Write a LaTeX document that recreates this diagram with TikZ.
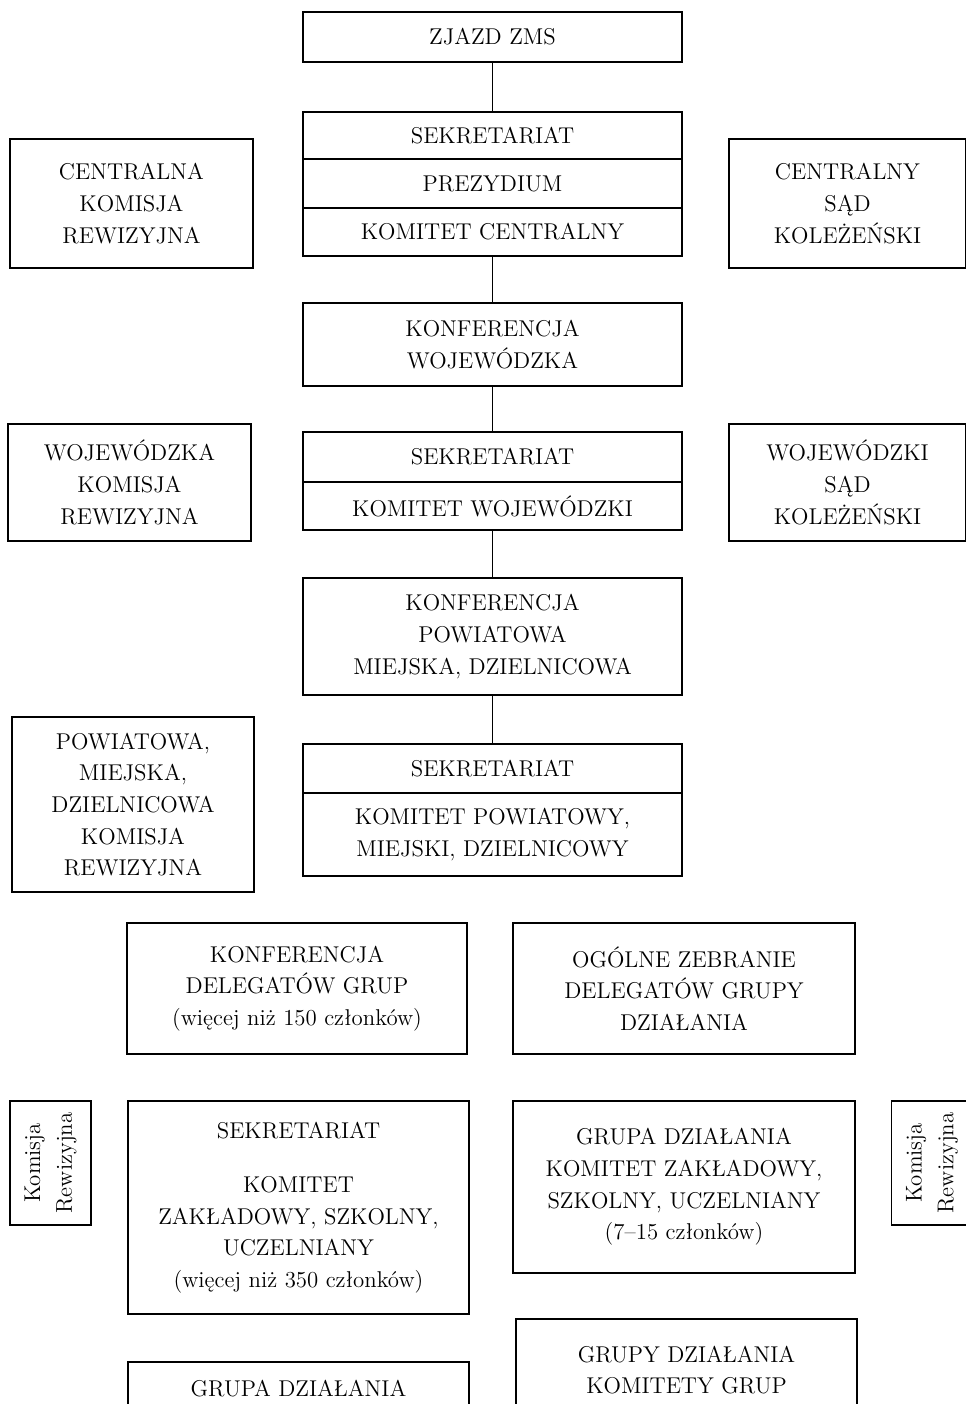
\documentclass[tikz,border=0pt]{standalone}
\usepackage{amsmath}

\begin{document}
\begin{tikzpicture}[x=0.02cm, y=-0.02cm,
		every box/.style={draw, line width=0.7pt, align=center, inner sep=0pt, font=\fontsize{13}{18}\selectfont},
		size/.style 2 args={minimum width=#1*0.02cm, minimum height=#2*0.02cm}]
		\useasboundingbox (0,0) rectangle (966,1404);
		
		\node [every box, size={379}{50}] (zjazd) at (492.5,37) {ZJAZD ZMS};
		
		\foreach \t/\c/\h [count=\i] in {SEKRETARIAT/135.5/47, PREZYDIUM/183.5/49, KOMITET CENTRALNY/232/48}
		\node [every box, size={379}{\h}] (cc-\i) at (492.5,\c) {\t};
		
		\node [every box, size={243}{129}] (komisja-c) at (131.5,203.5) {CENTRALNA\\KOMISJA\\REWIZYJNA};
		\node [every box, size={237}{129}] (sad-c) at (847.5,203.5) {CENTRALNY\\SĄD\\KOLEŻEŃSKI};
		
		\node [every box, size={379}{83}] (konf-woj) at (492.5,344.5) {KONFERENCJA\\WOJEWÓDZKA};
		
		\foreach \t/\c/\h [count=\i] in {SEKRETARIAT/457/50, KOMITET WOJEWÓDZKI/506/48}
		\node [every box, size={379}{\h}] (woj-\i) at (492.5,\c) {\t};
		
		\node [every box, size={243}{117}] (komisja-w) at (129.5,482.5) {WOJEWÓDZKA\\KOMISJA\\REWIZYJNA};
		\node [every box, size={237}{117}] (sad-w) at (847.5,482.5) {WOJEWÓDZKI\\SĄD\\KOLEŻEŃSKI};
		
		\node [every box, size={379}{117}] (konf-pow) at (492.5,636.5) {KONFERENCJA\\POWIATOWA\\MIEJSKA, DZIELNICOWA};
		
		\node [every box, size={379}{49}] (pow-1) at (492.5,768.5) {SEKRETARIAT};
		\node [every box, size={379}{83}] (pow-2) at (492.5,834.5) {KOMITET POWIATOWY,\\MIEJSKI, DZIELNICOWY};
		
		\node [every box, size={242}{175}] (komisja-p) at (133,804.5) {POWIATOWA,\\MIEJSKA,\\DZIELNICOWA\\KOMISJA\\REWIZYJNA};
		
		\node [every box, size={340}{131}] (konf-del) at (297,988.5) {KONFERENCJA\\DELEGATÓW GRUP\\(więcej niż 150 członków)};
		\node [every box, size={342}{131}] (zebranie) at (684,988.5) {OGÓLNE ZEBRANIE\\DELEGATÓW GRUPY\\DZIAŁANIA};
		
		\node [every box, size={124}{81}, rotate=90] (komisja-l) at (50.5,1163) {Komisja\\Rewizyjna};
		\node [every box, size={341}{213}] (komitet-z) at (298.5,1207.5) {SEKRETARIAT\\[13pt]KOMITET\\ZAKŁADOWY, SZKOLNY,\\UCZELNIANY\\(więcej niż 350 członków)};
		\node [every box, size={342}{172}] (grupa-z) at (684,1187) {GRUPA DZIAŁANIA\\KOMITET ZAKŁADOWY,\\SZKOLNY, UCZELNIANY\\(7–15 członków)};
		\node [every box, size={124}{81}, rotate=90] (komisja-r) at (932,1163) {Komisja\\Rewizyjna};
		
		\node [every box, size={341}{102}] (grupy) at (686.5,1370) {GRUPY DZIAŁANIA\\KOMITETY GRUP};
		\node [every box, size={341}{54}] (grupa) at (298.5,1389) {GRUPA DZIAŁANIA};
		
		\foreach \a/\b in {zjazd/cc-1, cc-3/konf-woj, konf-woj/woj-1, woj-2/konf-pow, konf-pow/pow-1}
		\draw [line width=0.7pt] (\a.south) -- (\b.north);
		
\end{tikzpicture}
\end{document}
